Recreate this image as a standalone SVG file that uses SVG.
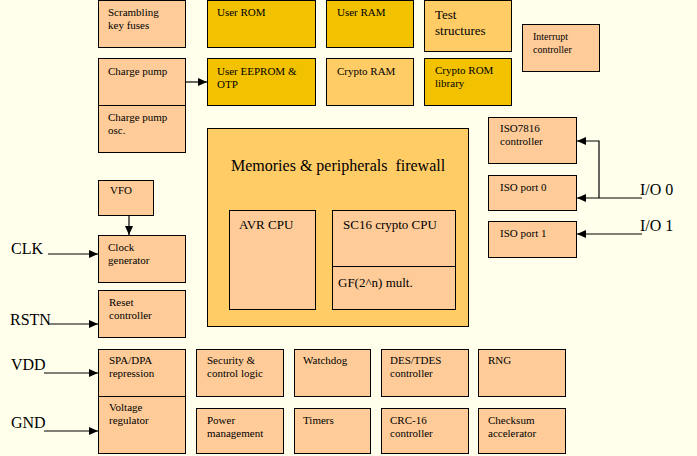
<svg xmlns="http://www.w3.org/2000/svg" width="697" height="456" viewBox="0 0 697 456">
<style>
text{font-family:"Liberation Serif","Times New Roman",serif;font-size:11px;fill:#000;white-space:pre}
.b{stroke:#000;stroke-width:1}
.p{fill:#FFCC99}
.g{fill:#F2C200}
.o{fill:#FFCC66}
.m{font-size:13px}
.s{font-size:10px}
.L{font-size:16px}
.c{fill:none;stroke:#000;stroke-width:1.2}
</style>
<defs>
<marker id="ah" markerUnits="userSpaceOnUse" markerWidth="10" markerHeight="8" refX="9" refY="4" orient="auto">
<path d="M0,0 L9,4 L0,8 Z" fill="#000"/>
</marker>
</defs>
<rect width="697" height="456" fill="#FFFFEC"/>
<g id="scrambling"><rect class="b p" x="98.5" y="0.5" width="87" height="47"/><text x="108" y="16">Scrambling</text><text x="108" y="29">key fuses</text></g>
<g id="userrom"><rect class="b g" x="207.5" y="0.5" width="108" height="47"/><text x="217" y="16">User ROM</text></g>
<g id="userram"><rect class="b g" x="326.5" y="0.5" width="87" height="47"/><text x="337" y="16">User RAM</text></g>
<g id="test"><rect class="b o" x="424.5" y="0.5" width="87" height="51"/><text class="m" x="435" y="19">Test</text><text class="m" x="435" y="35">structures</text></g>
<g id="interrupt"><rect class="b p" x="522.5" y="24.5" width="77" height="47"/><text class="s" x="533" y="40">Interrupt</text><text class="s" x="533" y="53">controller</text></g>
<g id="chargepump"><rect class="b p" x="98.5" y="58.5" width="87" height="47"/><text x="108" y="75">Charge pump</text></g>
<g id="chargepumposc"><rect class="b p" x="98.5" y="105.5" width="87" height="47"/><text x="108" y="121">Charge pump</text><text x="108" y="134">osc.</text></g>
<g id="eeprom"><rect class="b g" x="207.5" y="58.5" width="108" height="47"/><text x="217" y="75">User EEPROM &amp;</text><text x="217" y="88">OTP</text></g>
<g id="cryptoram"><rect class="b o" x="326.5" y="58.5" width="87" height="47"/><text x="337" y="75">Crypto RAM</text></g>
<g id="cryptorom"><rect class="b g" x="424.5" y="58.5" width="87" height="47"/><text x="435" y="74">Crypto ROM</text><text x="435" y="87">library</text></g>
<g id="iso7816"><rect class="b p" x="488.5" y="117.5" width="88" height="46"/><text x="500" y="132">ISO7816</text><text x="500" y="145">controller</text></g>
<g id="isoport0"><rect class="b p" x="488.5" y="175.5" width="88" height="35"/><text x="500" y="191">ISO port 0</text></g>
<g id="isoport1"><rect class="b p" x="488.5" y="221.5" width="88" height="36"/><text x="500" y="237">ISO port 1</text></g>
<g id="firewall"><rect class="b o" x="207.5" y="128.5" width="261" height="198"/><text class="L" x="231" y="171">Memories &amp; peripherals  firewall</text></g>
<g id="avr"><rect class="b p" x="229.5" y="210.5" width="86" height="99"/><text class="m" x="239" y="229">AVR CPU</text></g>
<g id="sc16"><rect class="b p" x="332.5" y="210.5" width="123" height="56"/><text class="m" x="343" y="229">SC16 crypto CPU</text></g>
<g id="gf"><rect class="b p" x="332.5" y="266.5" width="123" height="43"/><text class="m" x="338" y="287">GF(2^n) mult.</text></g>
<g id="vfo"><rect class="b p" x="98.5" y="180.5" width="55" height="35"/><text x="110" y="194">VFO</text></g>
<g id="clockgen"><rect class="b p" x="98.5" y="235.5" width="87" height="47"/><text x="108" y="251">Clock</text><text x="108" y="264">generator</text></g>
<g id="reset"><rect class="b p" x="98.5" y="290.5" width="87" height="47"/><text x="109" y="306">Reset</text><text x="109" y="319">controller</text></g>
<g id="spadpa"><rect class="b p" x="98.5" y="349.5" width="87" height="47"/><text x="109" y="364">SPA/DPA</text><text x="109" y="377">repression</text></g>
<g id="voltage"><rect class="b p" x="98.5" y="396.5" width="87" height="57"/><text x="109" y="411">Voltage</text><text x="109" y="424">regulator</text></g>
<g id="security"><rect class="b p" x="196.5" y="349.5" width="87" height="47"/><text x="207" y="364">Security &amp;</text><text x="207" y="377">control logic</text></g>
<g id="watchdog"><rect class="b p" x="294.5" y="349.5" width="76" height="47"/><text x="303" y="364">Watchdog</text></g>
<g id="des"><rect class="b p" x="381.5" y="349.5" width="87" height="47"/><text x="390" y="364">DES/TDES</text><text x="390" y="377">controller</text></g>
<g id="rng"><rect class="b p" x="478.5" y="349.5" width="87" height="47"/><text x="488" y="364">RNG</text></g>
<g id="power"><rect class="b p" x="196.5" y="408.5" width="87" height="45"/><text x="207" y="424">Power</text><text x="207" y="437">management</text></g>
<g id="timers"><rect class="b p" x="294.5" y="408.5" width="76" height="45"/><text x="303" y="424">Timers</text></g>
<g id="crc"><rect class="b p" x="381.5" y="408.5" width="87" height="45"/><text x="390" y="424">CRC-16</text><text x="390" y="437">controller</text></g>
<g id="checksum"><rect class="b p" x="478.5" y="408.5" width="87" height="45"/><text x="488" y="424">Checksum</text><text x="488" y="437">accelerator</text></g>
<g id="labels">
<text class="L" x="11" y="254">CLK</text>
<text class="L" x="10" y="325">RSTN</text>
<text class="L" x="11" y="370">VDD</text>
<text class="L" x="11" y="428">GND</text>
<text class="L" x="640" y="195">I/O 0</text>
<text class="L" x="640" y="231">I/O 1</text>
</g>
<g id="connectors">
<line class="c" x1="185.5" y1="82" x2="207" y2="82" marker-end="url(#ah)"/>
<line class="c" x1="129" y1="215.5" x2="129" y2="235" marker-end="url(#ah)"/>
<line class="c" x1="48" y1="254" x2="98" y2="254" marker-end="url(#ah)"/>
<line class="c" x1="48" y1="324" x2="98" y2="324" marker-end="url(#ah)"/>
<line class="c" x1="44" y1="373" x2="98" y2="373" marker-end="url(#ah)"/>
<line class="c" x1="44" y1="431" x2="98" y2="431" marker-end="url(#ah)"/>
<line class="c" x1="642" y1="198" x2="577" y2="198" marker-end="url(#ah)"/>
<polyline class="c" points="599,198 599,141 577,141" marker-end="url(#ah)"/>
<line class="c" x1="642" y1="234" x2="577" y2="234" marker-end="url(#ah)"/>
</g>
</svg>
